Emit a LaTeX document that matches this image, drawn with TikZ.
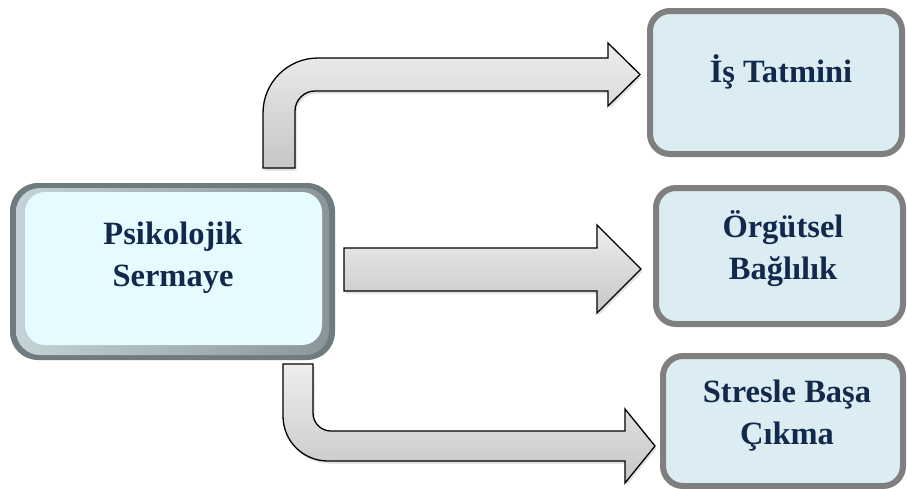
\documentclass[tikz,border=0pt]{standalone}
\usepackage{fontspec}
\setmainfont{Liberation Serif}
\usetikzlibrary{shadows}
\definecolor{txt}{HTML}{13294B}
\definecolor{rfill}{HTML}{DBECF3}
\definecolor{rborder}{HTML}{7F7F7F}
\definecolor{lfill}{HTML}{E6FBFF}
\definecolor{bevdark}{HTML}{6E7B80}
\definecolor{bevlight}{HTML}{C3D3D8}
\definecolor{arrtop}{HTML}{EEEEEE}
\definecolor{arrbot}{HTML}{C6C6C6}
\begin{document}
\begin{tikzpicture}[x=1pt,y=-1pt,
  rbox/.style={draw=rborder, line width=6pt, fill=rfill, rounded corners=20pt, inner sep=0pt},
  lbl/.style={text=txt, font=\bfseries\fontsize{32.5}{42}\selectfont, align=center},
  blockarrow/.style={draw=black, line width=1.3pt, line join=miter, top color=arrtop, bottom color=arrbot,
    drop shadow={opacity=0.25, shadow xshift=1.5pt, shadow yshift=-2.5pt}}]
\useasboundingbox (0,0) rectangle (907,488);
% left box (bevelled)
\node[fill=bevdark, rounded corners=28pt, minimum width=325pt, minimum height=177pt, inner sep=0pt] (ps) at (172.5,271.5) {};
\node[left color=bevlight, right color=bevdark!80, rounded corners=24pt, minimum width=313pt, minimum height=167pt, inner sep=0pt] (psb) at (172.5,271.5) {};
\node[fill=lfill, rounded corners=20pt, minimum width=297pt, minimum height=153pt, inner sep=0pt] (psi) at (173.5,268.5) {};
\node[lbl] (pst) at (173,258) {Psikolojik\\Sermaye};
% right boxes
\node[rbox, minimum width=252pt, minimum height=143pt] (is) at (776,82.5) {};
\node[lbl] (ist) at (781,72) {İş Tatmini};
\node[rbox, minimum width=247pt, minimum height=136pt] (org) at (779.5,256) {};
\node[lbl] (orgt) at (783,249) {Örgütsel\\Bağlılık};
\node[rbox, minimum width=240pt, minimum height=130pt] (st) at (783,421) {};
\node[lbl] (stt) at (787,416) {Stresle Başa\\Çıkma};
% top arrow
\path[blockarrow] (263,168) -- (263,113) .. controls (263,82.6) and (287.6,58) .. (318,58)
  -- (608,58) -- (608,43) -- (640,74.5) -- (608,106) -- (608,91) -- (315,91)
  .. controls (304,91) and (295,100) .. (295,111) -- (295,168) -- cycle;
% middle arrow
\path[blockarrow] (344,248) -- (597,248) -- (597,225) -- (641,269) -- (597,313) -- (597,291) -- (344,291) -- cycle;
% bottom arrow
\path[blockarrow] (283,364) -- (313,364) -- (313,413) .. controls (313,423) and (321,431) .. (331,431)
  -- (625,431) -- (625,409) -- (655,446) -- (625,483) -- (625,461) -- (328,461)
  .. controls (303,461) and (283,441) .. (283,416) -- cycle;
\end{tikzpicture}
\end{document}
